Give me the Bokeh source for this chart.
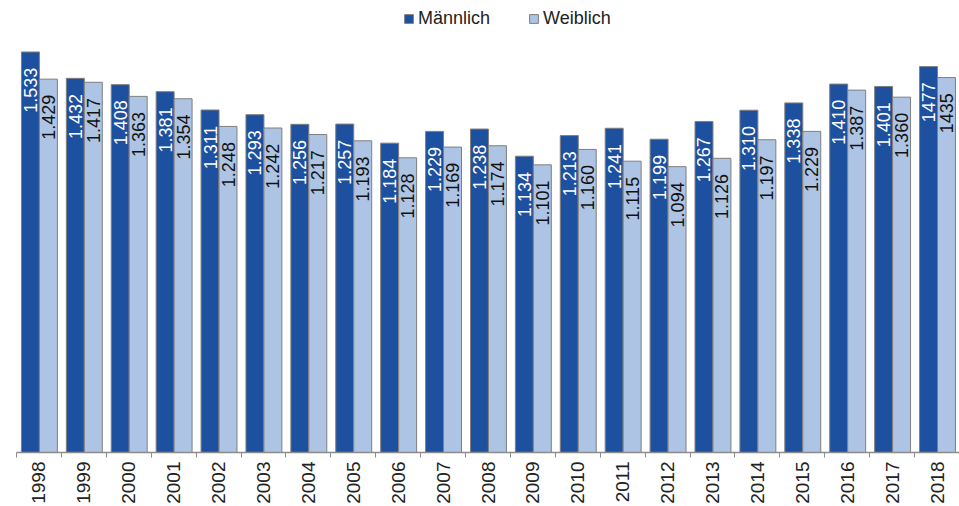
from math import pi
from bokeh.plotting import figure
from bokeh.models import ColumnDataSource, FixedTicker, Range1d, Legend, LegendItem
from bokeh.core.properties import value
from bokeh.transform import dodge
from bokeh.embed import file_html
from bokeh.resources import INLINE

years = ["1998", "1999", "2000", "2001", "2002", "2003", "2004", "2005", "2006", "2007",
         "2008", "2009", "2010", "2011", "2012", "2013", "2014", "2015", "2016", "2017", "2018"]
maennlich = [1533, 1432, 1408, 1381, 1311, 1293, 1256, 1257, 1184, 1229,
             1238, 1134, 1213, 1241, 1199, 1267, 1310, 1338, 1410, 1401, 1477]
weiblich = [1429, 1417, 1363, 1354, 1248, 1242, 1217, 1193, 1128, 1169,
            1174, 1101, 1160, 1115, 1094, 1126, 1197, 1229, 1387, 1360, 1435]
maennlich_labels = ["1.533", "1.432", "1.408", "1.381", "1.311", "1.293", "1.256", "1.257", "1.184", "1.229",
                    "1.238", "1.134", "1.213", "1.241", "1.199", "1.267", "1.310", "1.338", "1.410", "1.401", "1477"]
weiblich_labels = ["1.429", "1.417", "1.363", "1.354", "1.248", "1.242", "1.217", "1.193", "1.128", "1.169",
                   "1.174", "1.101", "1.160", "1.115", "1.094", "1.126", "1.197", "1.229", "1.387", "1.360", "1435"]

DARK = "#1E50A0"
LIGHT = "#ADC4E4"
EDGE = "#7F7F7F"
FONT = "Liberation Sans"

idx = list(range(len(years)))
src = ColumnDataSource(dict(
    xm=[i - 0.19 for i in idx],
    xw=[i + 0.21 for i in idx],
    m=maennlich, w=weiblich,
    ml=maennlich_labels, wl=weiblich_labels,
))

p = figure(width=959, height=506, x_range=Range1d(-0.5, 20.5), y_range=Range1d(0, 1730),
           output_backend="svg", toolbar_location=None,
           min_border_left=16, min_border_right=0, min_border_top=0, min_border_bottom=53)
p.outline_line_color = None
p.xgrid.visible = False
p.ygrid.visible = False
p.yaxis.visible = False

r1 = p.vbar(x="xm", top="m", width=0.4, source=src, fill_color=DARK, line_color=EDGE, line_width=1)
r2 = p.vbar(x="xw", top="w", width=0.4, source=src, fill_color=LIGHT, line_color=EDGE, line_width=1)

# value labels inside the bar tops (offset given in data units below the bar top)
p.text(x="xm", y=dodge("m", -60), text="ml", source=src, angle=pi / 2, text_align="right",
       text_baseline="middle", text_color="white", text_font=value(FONT), text_font_size="18px")
p.text(x="xw", y=dodge("w", -60), text="wl", source=src, angle=pi / 2, text_align="right",
       text_baseline="middle", text_color="#111111", text_font=value(FONT), text_font_size="18px")

ax = p.xaxis[0]
ax.ticker = FixedTicker(ticks=idx, minor_ticks=[i - 0.5 for i in range(len(years) + 1)])
ax.major_label_overrides = {i: years[i] for i in idx}
ax.major_label_orientation = pi / 2
ax.major_tick_out = 0
ax.major_tick_in = 0
ax.minor_tick_out = 5
ax.minor_tick_in = 0
ax.minor_tick_line_color = "#8C8C8C"
ax.axis_line_color = "#8C8C8C"
ax.axis_line_width = 1.5
ax.major_label_standoff = 4
ax.major_label_text_font = FONT
ax.major_label_text_font_size = "19px"
ax.major_label_text_color = "#222222"

legend = Legend(items=[LegendItem(label="Männlich", renderers=[r1]),
                       LegendItem(label="Weiblich", renderers=[r2])],
                orientation="horizontal", location=(387, 423),
                glyph_width=11, glyph_height=11, label_standoff=4, spacing=38,
                padding=0, margin=0, border_line_color=None, background_fill_alpha=0,
                label_text_font=FONT, label_text_font_size="18px", label_text_color="#222222")
p.add_layout(legend)

open("out.html", "w").write(file_html(p, INLINE))
